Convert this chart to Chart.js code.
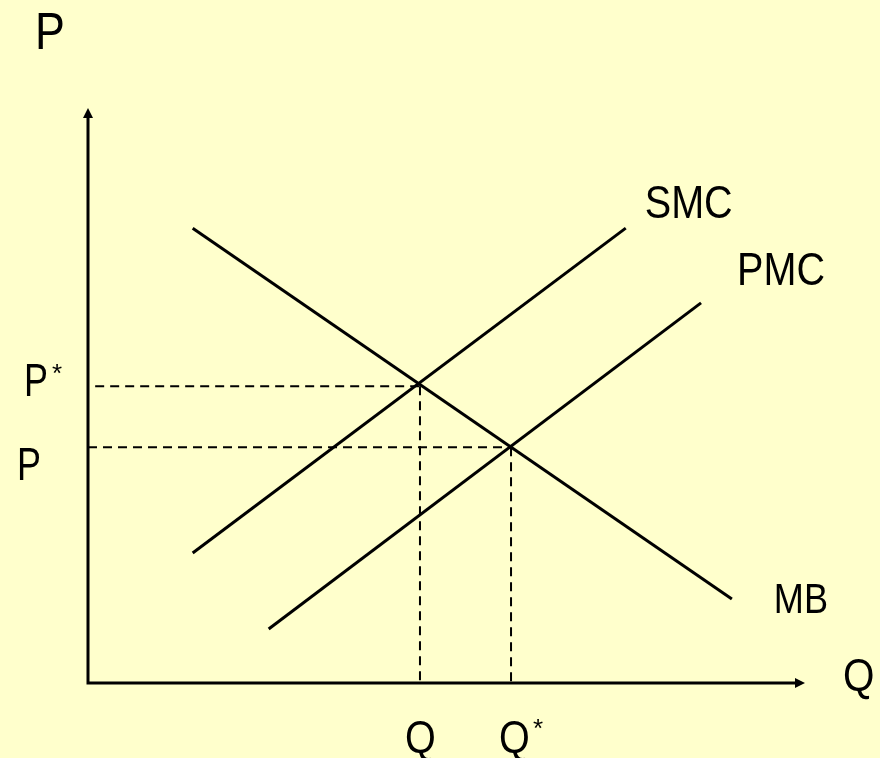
<!DOCTYPE html>
<html>
<head>
<meta charset="utf-8">
<script src="https://cdn.jsdelivr.net/npm/chart.js@4"></script>
<style>
  html, body { margin: 0; padding: 0; background: #FFFFCC; }
  canvas { display: block; }
</style>
</head>
<body>
<canvas id="graph" width="880" height="758"></canvas>
<script>
// curve end points (Q, P) in chart units, 0..100 on both axes
const mbPoints = [{ x: 14.6, y: 79.1 }, { x: 89.8, y: 14.6 }];
const smcPoints = [{ x: 14.6, y: 22.6 }, { x: 75.0, y: 79.1 }];
const pmcPoints = [{ x: 25.2, y: 9.4 }, { x: 85.5, y: 66.1 }];

// equilibrium values
const qSocial = 46.3;
const pSocial = 51.6;
const qPrivate = 59.0;
const pPrivate = 41.0;

const curveLabels = ['SMC', 'PMC', 'MB'];
const axisLabels = ['P', 'Q'];

const FONT = '"Liberation Sans", Arial, sans-serif';

function drawText(ctx, text, x, y, size, squeeze) {
    ctx.save();
    ctx.translate(x, y);
    ctx.scale(squeeze, 1);
    ctx.font = size + 'px ' + FONT;
    ctx.textAlign = 'left';
    ctx.textBaseline = 'alphabetic';
    ctx.fillStyle = '#000';
    ctx.fillText(text, 0, 0);
    ctx.restore();
}

const background = {
    id: 'background',
    beforeDraw(chart) {
        const ctx = chart.ctx;
        ctx.save();
        ctx.fillStyle = '#FFFFCC';
        ctx.fillRect(0, 0, chart.width, chart.height);
        ctx.restore();
    }
};

const axesAndLabels = {
    id: 'axesAndLabels',
    afterDatasetsDraw(chart) {
        const ctx = chart.ctx;
        const a = chart.chartArea;
        const xs = chart.scales.x;
        const ys = chart.scales.y;

        // axes with arrow heads
        ctx.save();
        ctx.strokeStyle = '#000';
        ctx.fillStyle = '#000';
        ctx.lineWidth = 3;
        ctx.beginPath();
        ctx.moveTo(a.left, a.top + 8);
        ctx.lineTo(a.left, a.bottom);
        ctx.lineTo(a.right - 8, a.bottom);
        ctx.stroke();
        ctx.beginPath();
        ctx.moveTo(a.left, a.top);
        ctx.lineTo(a.left - 5, a.top + 10);
        ctx.lineTo(a.left + 5, a.top + 10);
        ctx.closePath();
        ctx.fill();
        ctx.beginPath();
        ctx.moveTo(a.right, a.bottom);
        ctx.lineTo(a.right - 10, a.bottom - 5);
        ctx.lineTo(a.right - 10, a.bottom + 5);
        ctx.closePath();
        ctx.fill();
        ctx.restore();

        // axis titles
        drawText(ctx, axisLabels[0], a.left - 53, a.top - 59, 52, 0.86);
        drawText(ctx, axisLabels[1], a.right + 38, a.bottom + 8, 47, 0.86);

        // curve labels next to the upper ends of the lines
        const smcEnd = smcPoints[1];
        const pmcEnd = pmcPoints[1];
        const mbEnd = mbPoints[1];
        drawText(ctx, curveLabels[0], xs.getPixelForValue(smcEnd.x) + 19, ys.getPixelForValue(smcEnd.y) - 10, 46, 0.86);
        drawText(ctx, curveLabels[1], xs.getPixelForValue(pmcEnd.x) + 36, ys.getPixelForValue(pmcEnd.y) - 18, 46, 0.86);
        drawText(ctx, curveLabels[2], xs.getPixelForValue(mbEnd.x) + 42, ys.getPixelForValue(mbEnd.y) + 14, 42, 0.86);

        // price ticks
        const yStar = ys.getPixelForValue(pSocial);
        const yP = ys.getPixelForValue(pPrivate);
        drawText(ctx, 'P', 24, yStar + 10, 46, 0.78);
        drawText(ctx, '*', 52, yStar - 4, 26, 1);
        drawText(ctx, 'P', 17, yP + 33, 46, 0.78);

        // quantity ticks
        const xQ = xs.getPixelForValue(qSocial);
        const xQStar = xs.getPixelForValue(qPrivate);
        drawText(ctx, 'Q', xQ - 15, a.bottom + 70, 46, 0.86);
        drawText(ctx, 'Q', xQStar - 12, a.bottom + 70, 46, 0.86);
        drawText(ctx, '*', xQStar + 22, a.bottom + 54, 26, 1);
    }
};

function solid(data) {
    return {
        data: data,
        showLine: true,
        borderColor: '#000',
        borderWidth: 3,
        pointRadius: 0,
        fill: false
    };
}

function dashed(data) {
    return {
        data: data,
        showLine: true,
        borderColor: '#000',
        borderWidth: 2,
        borderDash: [9, 6],
        pointRadius: 0,
        fill: false
    };
}

const ctx = document.getElementById('graph').getContext('2d');
const myChart = new Chart(ctx, {
    type: 'scatter',
    data: {
        datasets: [
            dashed([{ x: 1, y: pSocial }, { x: qSocial, y: pSocial }]),
            dashed([{ x: 0, y: pPrivate }, { x: qPrivate, y: pPrivate }]),
            dashed([{ x: qSocial, y: pSocial }, { x: qSocial, y: 0 }]),
            dashed([{ x: qPrivate, y: pPrivate }, { x: qPrivate, y: 0 }]),
            solid(mbPoints),
            solid(smcPoints),
            solid(pmcPoints)
        ]
    },
    options: {
        responsive: false,
        animation: false,
        devicePixelRatio: 1,
        layout: {
            padding: { left: 88, right: 75, top: 108, bottom: 75 }
        },
        plugins: {
            legend: { display: false },
            tooltip: { enabled: false }
        },
        scales: {
            x: { type: 'linear', min: 0, max: 100, display: false },
            y: { type: 'linear', min: 0, max: 100, display: false }
        }
    },
    plugins: [background, axesAndLabels]
});
</script>
</body>
</html>
